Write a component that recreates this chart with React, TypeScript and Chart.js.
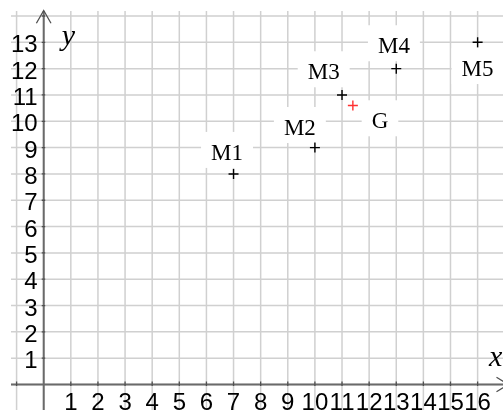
import React, { useEffect, useRef } from 'react';
import { Chart, registerables } from 'chart.js';

Chart.register(...registerables);

// ---- data ----
const pointNames = ['M1', 'M2', 'M3', 'M4', 'M5'];
const xValues = [7, 10, 11, 13, 16];
const yValues = [8, 9, 11, 12, 13];
const centroidName = 'G';
const centroidX = 11.4;
const centroidY = 10.6;
const xTickLabels = ['1', '2', '3', '4', '5', '6', '7', '8', '9', '10', '11', '12', '13', '14', '15', '16'];
const yTickLabels = ['1', '2', '3', '4', '5', '6', '7', '8', '9', '10', '11', '12', '13'];
const xAxisTitle = 'x';
const yAxisTitle = 'y';

// ---- view / style ----
const X_MIN = -1.206;
const X_MAX = 16.936;
const Y_MIN = -0.969;
const Y_MAX = 14.19;
// label anchor offsets in px (text left, baseline) relative to the point
const labelOffsets = [
  [-22.5, -14],
  [-31, -12.6],
  [-34.3, -15.7],
  [-18.3, -15.4],
  [-16, 33.7],
];
const centroidLabelOffset = [18.8, 22.8];

const overlayPlugin = {
  id: 'geoOverlay',
  beforeDatasetsDraw(chart: any) {
    const { ctx, chartArea } = chart;
    const xs = chart.scales.x;
    const ys = chart.scales.y;
    const x0 = xs.getPixelForValue(0);
    const y0 = ys.getPixelForValue(0);
    ctx.save();

    // grid
    ctx.strokeStyle = '#d0d0d0';
    ctx.lineWidth = 1.5;
    ctx.beginPath();
    for (let v = Math.ceil(X_MIN); v <= Math.floor(X_MAX); v++) {
      const px = xs.getPixelForValue(v);
      ctx.moveTo(px, chartArea.top);
      ctx.lineTo(px, chartArea.bottom);
    }
    for (let v = Math.ceil(Y_MIN); v <= Math.floor(Y_MAX); v++) {
      const py = ys.getPixelForValue(v);
      ctx.moveTo(chartArea.left, py);
      ctx.lineTo(chartArea.right, py);
    }
    ctx.stroke();

    // axes
    ctx.strokeStyle = '#6a6a6a';
    ctx.lineWidth = 2;
    ctx.beginPath();
    ctx.moveTo(chartArea.left, y0);
    ctx.lineTo(chartArea.right, y0);
    ctx.moveTo(x0, chartArea.bottom);
    ctx.lineTo(x0, chartArea.top);
    ctx.stroke();

    // arrows
    ctx.lineWidth = 1.3;
    ctx.strokeStyle = '#505050';
    ctx.beginPath();
    ctx.moveTo(x0 - 7.3, chartArea.top + 12.3);
    ctx.lineTo(x0, chartArea.top - 0.5);
    ctx.lineTo(x0 + 7.3, chartArea.top + 12.3);
    ctx.moveTo(chartArea.right - 6.5, y0 - 7.3);
    ctx.lineTo(chartArea.right + 5.5, y0);
    ctx.lineTo(chartArea.right - 6.5, y0 + 7.3);
    ctx.stroke();

    // tick marks
    ctx.beginPath();
    for (let v = Math.ceil(X_MIN); v <= Math.floor(X_MAX); v++) {
      if (v === 0) continue;
      const px = xs.getPixelForValue(v);
      ctx.moveTo(px, y0 - 3);
      ctx.lineTo(px, y0 + 1.5);
    }
    for (let v = Math.ceil(Y_MIN); v <= Math.floor(Y_MAX); v++) {
      if (v === 0) continue;
      const py = ys.getPixelForValue(v);
      ctx.moveTo(x0 - 2, py);
      ctx.lineTo(x0 + 1.5, py);
    }
    ctx.stroke();

    // tick labels
    ctx.fillStyle = '#000';
    ctx.font = '24px "Liberation Sans", Arial, sans-serif';
    ctx.textBaseline = 'alphabetic';
    ctx.textAlign = 'center';
    xTickLabels.forEach((t) => {
      const px = xs.getPixelForValue(Number(t));
      ctx.fillText(t, px, y0 + 25.5);
    });
    ctx.textAlign = 'right';
    yTickLabels.forEach((t) => {
      const py = ys.getPixelForValue(Number(t));
      ctx.fillText(t, x0 - 6, py + 10);
    });

    // axis titles
    ctx.font = 'italic 30px "Liberation Serif", "Times New Roman", serif';
    ctx.textAlign = 'left';
    ctx.fillText(yAxisTitle, x0 + 18, 45);
    ctx.fillText(xAxisTitle, chartArea.right - 14, y0 - 18);

    // point labels with white backgrounds
    ctx.font = '23px "Liberation Serif", "Times New Roman", serif';
    const drawLabel = (txt: string, vx: number, vy: number, off: number[]) => {
      const px = xs.getPixelForValue(vx);
      const py = ys.getPixelForValue(vy);
      const left = px + off[0];
      const base = py + off[1];
      const w = ctx.measureText(txt).width;
      ctx.fillStyle = '#fff';
      ctx.fillRect(left - 10, base - 28, w + 20, 36);
      ctx.fillStyle = '#000';
      ctx.fillText(txt, left, base);
    };
    pointNames.forEach((n, i) => drawLabel(n, xValues[i], yValues[i], labelOffsets[i]));
    drawLabel(centroidName, centroidX, centroidY, centroidLabelOffset);

    ctx.restore();
  },
};

export default function App() {
  const ref = useRef<HTMLCanvasElement>(null);
  useEffect(() => {
    const chart = new Chart(ref.current as HTMLCanvasElement, {
      type: 'scatter',
      data: {
        datasets: [
          {
            label: 'M',
            data: xValues.map((x, i) => ({ x, y: yValues[i] })),
            pointStyle: 'cross',
            radius: 5,
            borderColor: '#000',
            backgroundColor: '#000',
            borderWidth: 1.4,
          },
          {
            label: centroidName,
            data: [{ x: centroidX, y: centroidY }],
            pointStyle: 'cross',
            radius: 5,
            borderColor: '#ff3030',
            backgroundColor: '#ff3030',
            borderWidth: 1.4,
          },
        ],
      },
      options: {
        animation: false,
        responsive: false,
        maintainAspectRatio: false,
        devicePixelRatio: 1,
        layout: { autoPadding: false, padding: { left: 11, top: 11, right: 0, bottom: 0 } },
        plugins: { legend: { display: false }, tooltip: { enabled: false } },
        scales: {
          x: { type: 'linear', display: false, min: X_MIN, max: X_MAX },
          y: { type: 'linear', display: false, min: Y_MIN, max: Y_MAX },
        },
      },
      plugins: [overlayPlugin],
    } as any);
    return () => chart.destroy();
  }, []);
  return (
    <div style={{ position: 'fixed', left: 0, top: 0, width: 503, height: 410, background: '#fff' }}>
      <canvas ref={ref} width={503} height={410} style={{ display: 'block', width: 503, height: 410 }} />
    </div>
  );
}
